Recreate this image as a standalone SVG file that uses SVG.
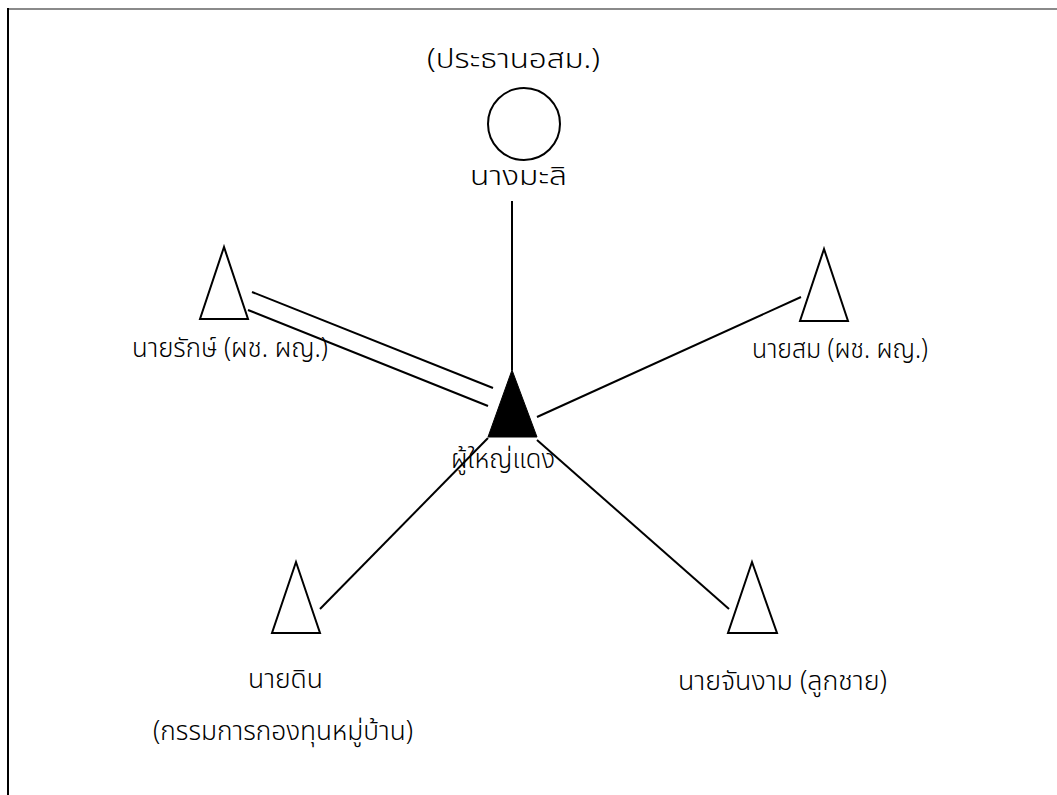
<svg xmlns="http://www.w3.org/2000/svg" width="1057" height="795" viewBox="0 0 1057 795">
<style>
.t{font-family:"Noto Sans Thai","Noto Sans","DejaVu Sans",Tahoma,sans-serif;font-size:27px;font-weight:300;fill:#000;text-anchor:middle}
.s{fill:#fff;stroke:#000;stroke-width:2}
.c{stroke:#000;stroke-width:2;fill:none}
</style>
<rect width="1057" height="795" fill="#fff"/>
<g id="frame">
<line x1="8" y1="9" x2="1057" y2="9" stroke="#8a8a8a" stroke-width="2"/>
<line x1="8" y1="8" x2="8" y2="795" stroke="#000" stroke-width="2"/>
</g>
<g id="connectors">
<line class="c" x1="512" y1="201" x2="512" y2="370"/>
<line class="c" x1="252" y1="292" x2="493" y2="388"/>
<line class="c" x1="248" y1="310" x2="488" y2="406"/>
<line class="c" x1="537" y1="417" x2="801" y2="297"/>
<line class="c" x1="488" y1="438" x2="320" y2="609"/>
<line class="c" x1="537" y1="440" x2="729" y2="609"/>
</g>
<g id="node-mali">
<text class="t" x="513.5" y="68" textLength="173" lengthAdjust="spacingAndGlyphs">(ประธานอสม.)</text>
<circle class="s" cx="524" cy="124" r="36"/>
<text class="t" x="518.5" y="185" textLength="97" lengthAdjust="spacingAndGlyphs">นางมะลิ</text>
</g>
<g id="node-rak">
<polygon class="s" points="224,247 200,319 248,319"/>
<text class="t" x="230" y="357" textLength="196" lengthAdjust="spacingAndGlyphs">นายรักษ์ (ผช. ผญ.)</text>
</g>
<g id="node-som">
<polygon class="s" points="824,249 800,321 848,321"/>
<text class="t" x="840" y="358" textLength="176" lengthAdjust="spacingAndGlyphs">นายสม (ผช. ผญ.)</text>
</g>
<g id="node-daeng">
<polygon points="512,370 488,437 537,437" fill="#000" stroke="#000" stroke-width="1"/>
<text class="t" x="503" y="468" textLength="104" lengthAdjust="spacingAndGlyphs">ผู้ใหญ่แดง</text>
</g>
<g id="node-din">
<polygon class="s" points="296,562 272,633 320,633"/>
<text class="t" x="285.5" y="688" textLength="75" lengthAdjust="spacingAndGlyphs">นายดิน</text>
<text class="t" x="283" y="740" textLength="260" lengthAdjust="spacingAndGlyphs">(กรรมการกองทุนหมู่บ้าน)</text>
</g>
<g id="node-channgam">
<polygon class="s" points="752,562 728,633 777,633"/>
<text class="t" x="782.5" y="690" textLength="209" lengthAdjust="spacingAndGlyphs">นายจันงาม (ลูกชาย)</text>
</g>
</svg>
